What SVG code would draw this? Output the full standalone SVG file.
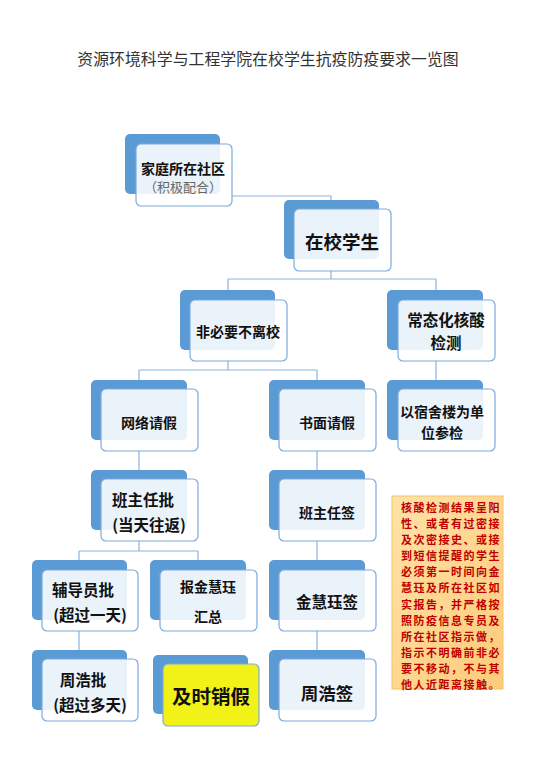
<svg xmlns="http://www.w3.org/2000/svg" width="553" height="775" viewBox="0 0 553 775">
<style>
.bk{fill:#5B9BD5;}
.fr{fill:#fff;fill-opacity:0.88;stroke:#7EAADC;stroke-width:1.2;}
.t{font-family:"Noto Sans CJK SC","Liberation Sans",sans-serif;font-weight:bold;fill:#111;text-anchor:middle;dominant-baseline:central;}
.g{font-family:"Noto Sans CJK SC","Liberation Sans",sans-serif;fill:#666;text-anchor:middle;dominant-baseline:central;}
.n{font-family:"Noto Sans CJK SC","Liberation Sans",sans-serif;font-weight:bold;fill:#C00000;font-size:11px;letter-spacing:1.5px;text-anchor:middle;dominant-baseline:central;}
#connectors path{fill:none;stroke:#8DB2DE;stroke-width:1.2;}
</style>
<defs>
<linearGradient id="og" x1="0" y1="0" x2="1" y2="1">
<stop offset="0" stop-color="#FFE3A8"/>
<stop offset="1" stop-color="#FDCB7A"/>
</linearGradient>
</defs>
<rect width="553" height="775" fill="#fff"/>
<text x="268" y="58" font-family="Noto Sans CJK SC, Liberation Sans, sans-serif" font-size="15.9" fill="#333" text-anchor="middle" dominant-baseline="central">资源环境科学与工程学院在校学生抗疫防疫要求一览图</text>

<g id="connectors">
<path d="M232 196 H331 V200"/>
<path d="M331 271 V279 M228 279 H436 M228 279 V290 M436 279 V290"/>
<path d="M228 361 V370 M139 370 H317 M139 370 V380 M317 370 V380 M436 361 V380"/>
<path d="M139 451 V470 M317 451 V470"/>
<path d="M139 541 V551 M79 551 H198 M79 551 V560 M198 551 V560 M317 541 V560"/>
<path d="M79 631 V650 M317 631 V650"/>
</g>

<g id="family">
<rect class="bk" x="125" y="134" width="95" height="60" rx="5"/>
<rect class="fr" x="136" y="144" width="96" height="62" rx="5"/>
<text class="t" x="183" y="168" font-size="14">家庭所在社区</text>
<text class="g" x="183" y="186" font-size="13">（积极配合）</text>
</g>

<g id="inschool">
<rect class="bk" x="284" y="200" width="95" height="59" rx="5"/>
<rect class="fr" x="294" y="209" width="97" height="62" rx="5"/>
<text class="t" x="342" y="241" font-size="18.5">在校学生</text>
</g>

<g id="nonessential">
<rect class="bk" x="180" y="290" width="95" height="60" rx="5"/>
<rect class="fr" x="190" y="300" width="97" height="61" rx="5"/>
<text class="t" x="238" y="331" font-size="14">非必要不离校</text>
</g>

<g id="nucleic">
<rect class="bk" x="387" y="290" width="96" height="60" rx="5"/>
<rect class="fr" x="398" y="300" width="97" height="61" rx="5"/>
<text class="t" x="446" y="319" font-size="15.5">常态化核酸</text>
<text class="t" x="446" y="342" font-size="15.5">检测</text>
</g>

<g id="online">
<rect class="bk" x="91" y="380" width="96" height="60" rx="5"/>
<rect class="fr" x="101" y="389" width="97" height="62" rx="5"/>
<text class="t" x="149" y="422" font-size="14">网络请假</text>
</g>

<g id="written">
<rect class="bk" x="269" y="380" width="96" height="60" rx="5"/>
<rect class="fr" x="279" y="389" width="97" height="62" rx="5"/>
<text class="t" x="327" y="422" font-size="14">书面请假</text>
</g>

<g id="dorm">
<rect class="bk" x="387" y="380" width="96" height="60" rx="5"/>
<rect class="fr" x="398" y="389" width="97" height="62" rx="5"/>
<text class="t" x="442" y="411" font-size="14">以宿舍楼为单</text>
<text class="t" x="442" y="432" font-size="14">位参检</text>
</g>

<g id="teacherApprove">
<rect class="bk" x="91" y="470" width="96" height="60" rx="5"/>
<rect class="fr" x="101" y="479" width="97" height="62" rx="5"/>
<text class="t" x="143" y="499" font-size="15.5">班主任批</text>
<text class="t" x="149" y="524" font-size="15.5">(当天往返)</text>
</g>

<g id="teacherSign">
<rect class="bk" x="269" y="470" width="96" height="60" rx="5"/>
<rect class="fr" x="279" y="479" width="97" height="62" rx="5"/>
<text class="t" x="327" y="512" font-size="14">班主任签</text>
</g>

<g id="counselor">
<rect class="bk" x="32" y="560" width="95" height="60" rx="5"/>
<rect class="fr" x="42" y="570" width="96" height="61" rx="5"/>
<text class="t" x="83" y="589" font-size="15.5">辅导员批</text>
<text class="t" x="90" y="614" font-size="15.5">(超过一天)</text>
</g>

<g id="report">
<rect class="bk" x="150" y="560" width="96" height="60" rx="5"/>
<rect class="fr" x="160" y="570" width="97" height="61" rx="5"/>
<text class="t" x="208" y="586" font-size="14">报金慧珏</text>
<text class="t" x="208" y="616" font-size="14">汇总</text>
</g>

<g id="jinSign">
<rect class="bk" x="269" y="560" width="96" height="60" rx="5"/>
<rect class="fr" x="279" y="570" width="97" height="61" rx="5"/>
<text class="t" x="327" y="601" font-size="15.5">金慧珏签</text>
</g>

<g id="zhouApprove">
<rect class="bk" x="32" y="650" width="95" height="60" rx="5"/>
<rect class="fr" x="42" y="659" width="96" height="62" rx="5"/>
<text class="t" x="83" y="679" font-size="15.5">周浩批</text>
<text class="t" x="90" y="704" font-size="15.5">(超过多天)</text>
</g>

<g id="cancel">
<rect class="bk" x="153" y="655" width="95" height="59" rx="5"/>
<rect x="163" y="664" width="96" height="62" rx="5" fill="#F2F218" stroke="#7EAADC" stroke-width="1.2"/>
<text class="t" x="211" y="695" font-size="19.5">及时销假</text>
</g>

<g id="zhouSign">
<rect class="bk" x="269" y="650" width="96" height="60" rx="5"/>
<rect class="fr" x="279" y="659" width="97" height="62" rx="5"/>
<text class="t" x="327" y="692" font-size="17.5">周浩签</text>
</g>

<g id="notice">
<rect x="392" y="496" width="111" height="193" fill="url(#og)" stroke="#F5C26B" stroke-width="1"/>
<text class="n" x="451" y="507">核酸检测结果呈阳</text>
<text class="n" x="451" y="523">性、或者有过密接</text>
<text class="n" x="451" y="539">及次密接史、或接</text>
<text class="n" x="451" y="555">到短信提醒的学生</text>
<text class="n" x="451" y="571">必须第一时间向金</text>
<text class="n" x="451" y="587">慧珏及所在社区如</text>
<text class="n" x="451" y="604">实报告，并严格按</text>
<text class="n" x="451" y="620">照防疫信息专员及</text>
<text class="n" x="451" y="636">所在社区指示做，</text>
<text class="n" x="451" y="652">指示不明确前非必</text>
<text class="n" x="451" y="668">要不移动，不与其</text>
<text class="n" x="451" y="684">他人近距离接触。</text>
</g>
</svg>
